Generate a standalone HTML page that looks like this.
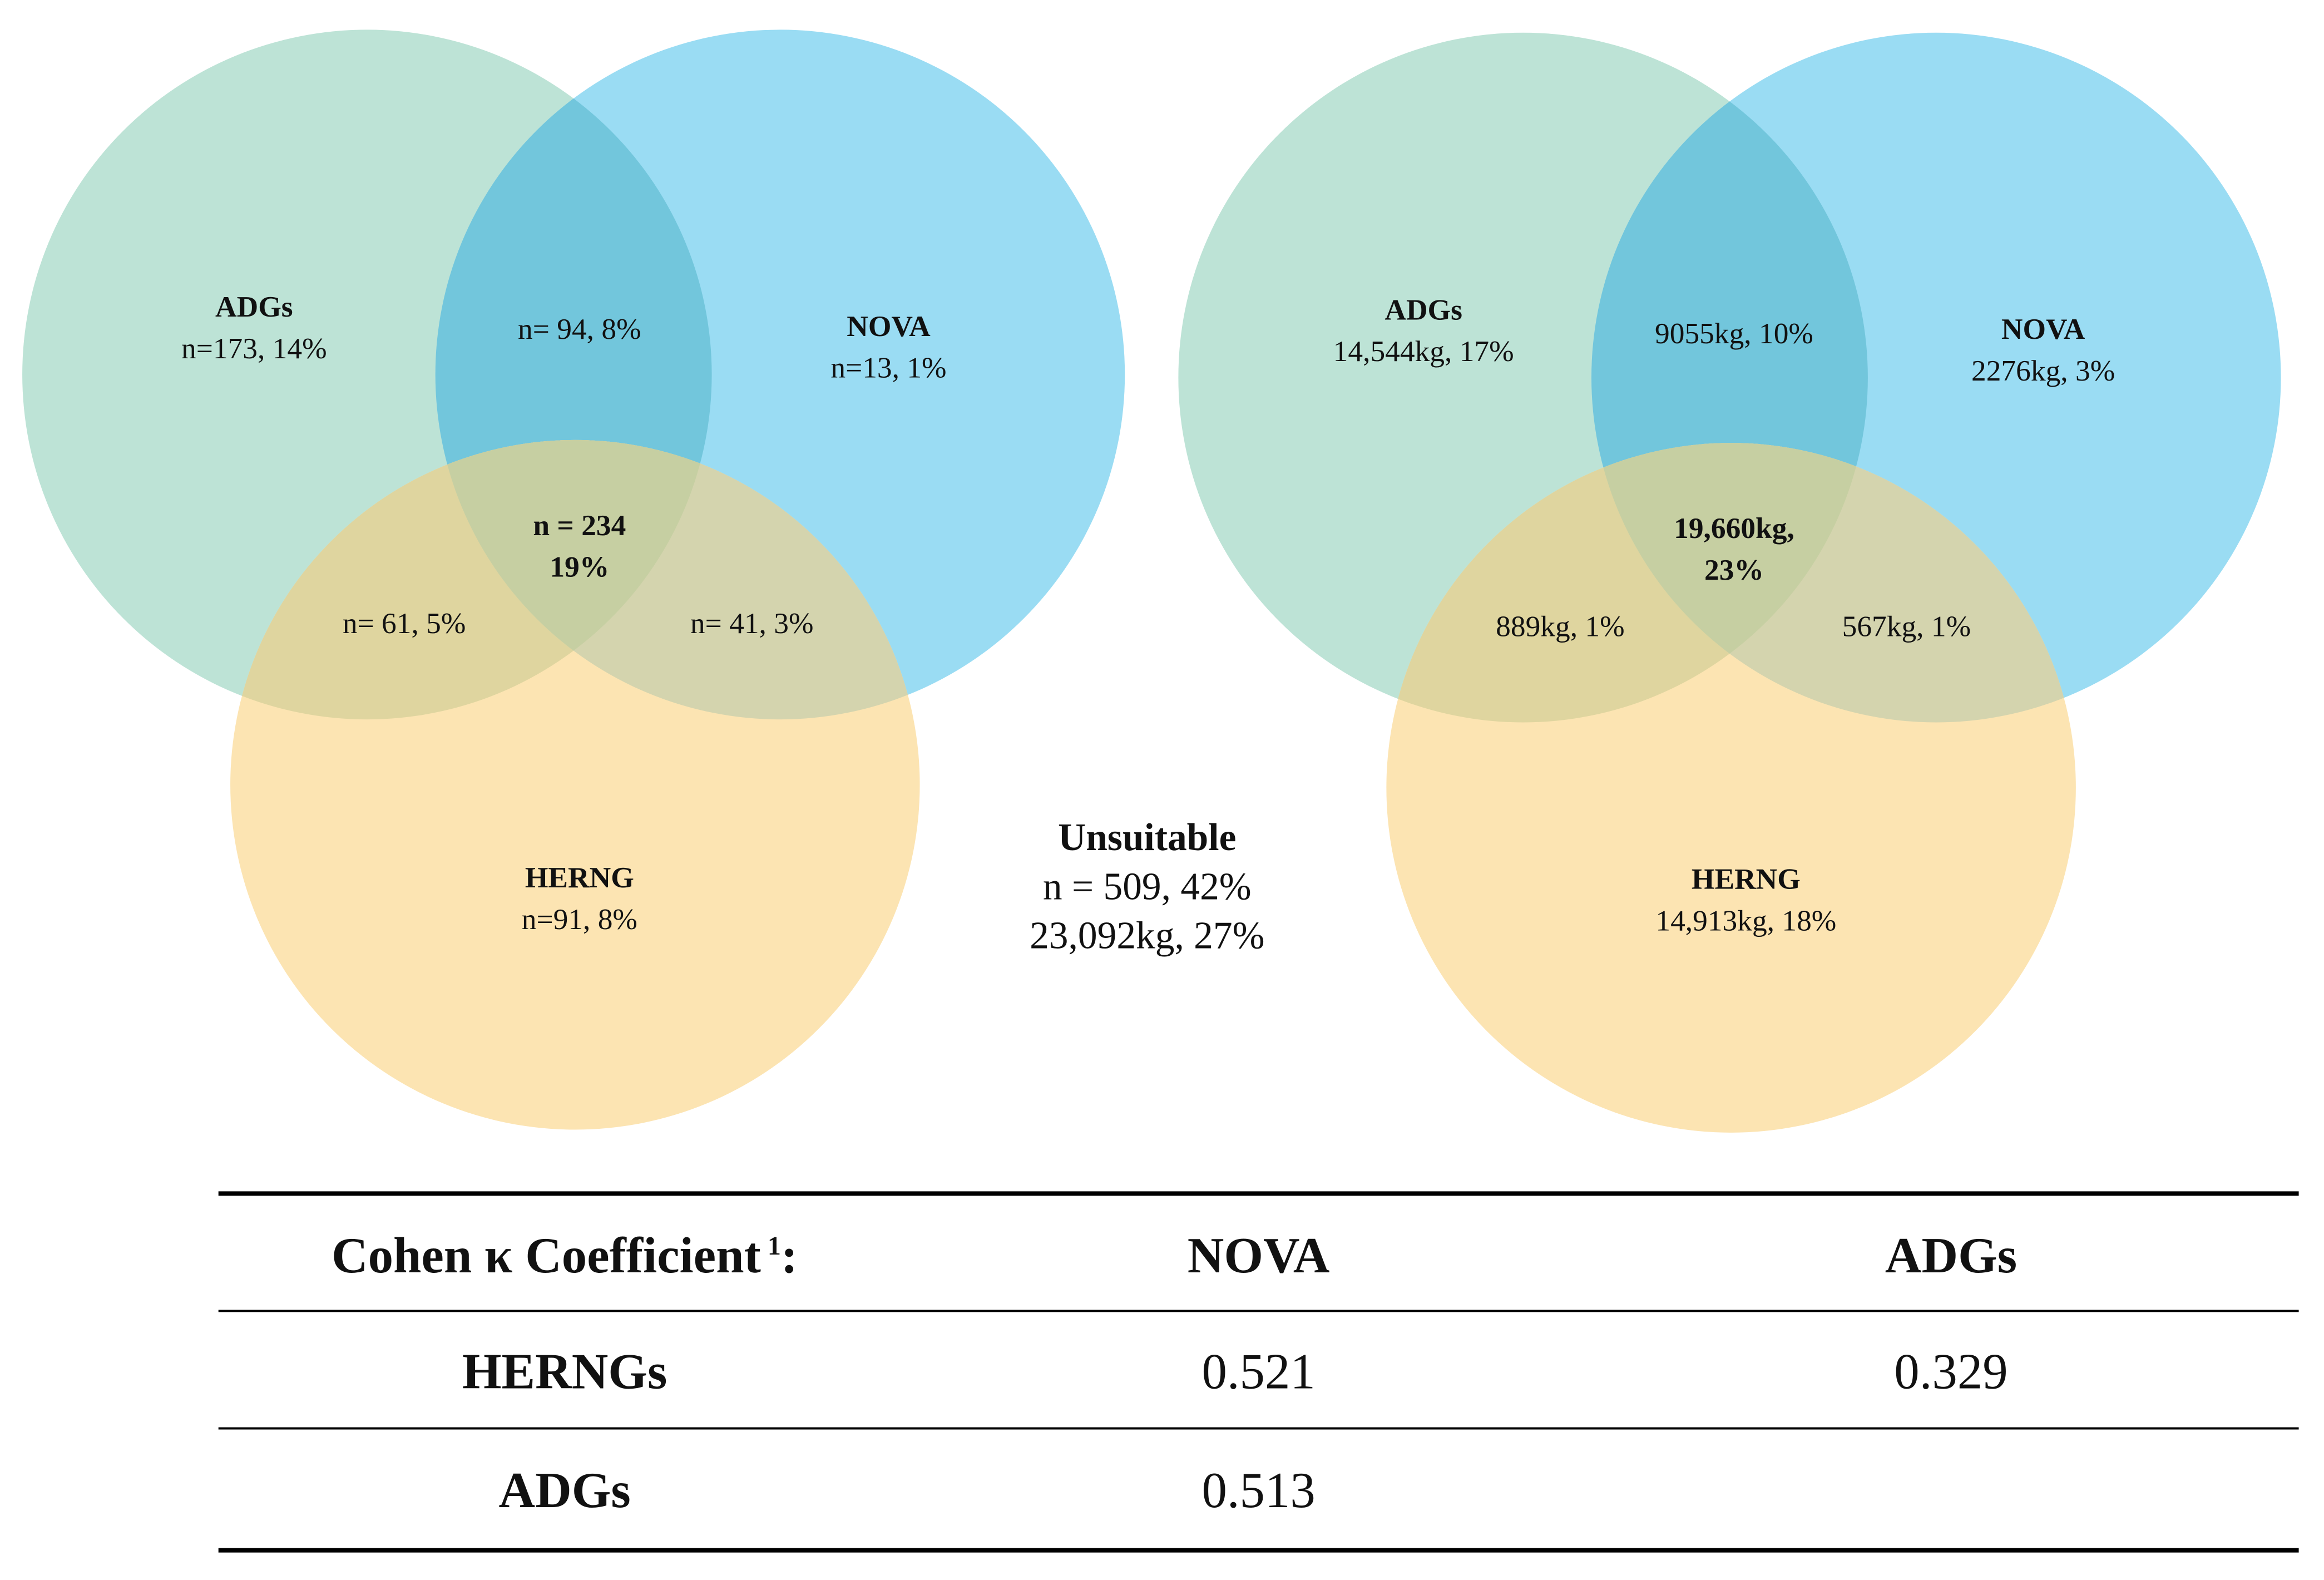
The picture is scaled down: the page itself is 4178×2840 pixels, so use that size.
<!DOCTYPE html>
<html><head><meta charset="utf-8">
<style>
html,body{margin:0;padding:0;background:#fff;}
svg{display:block;}
text{font-family:"Liberation Serif",serif;fill:#111;}
</style></head>
<body>
<svg id="chart" width="4178" height="2840" viewBox="0 0 1564 1063" preserveAspectRatio="none">
<defs id="defs"></defs>
<g id="venns"></g>
<g id="labels"></g>
<g id="table"></g>
</svg>
<script>
const NS="http://www.w3.org/2000/svg";
const setNames=["ADGs","NOVA","HERNG"];
const vennCenters=[[[247,252],[525,252],[387,528]],[[1025,254],[1303,254],[1165,530]]];
const R=232;
const regionColors={A:"#bde3d6",N:"#9adcf3",H:"#fce4b2",AN:"#72c6dc",AH:"#dfd59f",NH:"#d4d4ae",ANH:"#c6cfa2"};
const leftLabels=[["ADGs","n=173, 14%",171,213,true],["NOVA","n=13, 1%",598,226,true],["","n= 94, 8%",390,228,false],["n = 234","19%",390,360,"both"],["","n= 61, 5%",272,426,false],["","n= 41, 3%",506,426,false],["HERNG","n=91, 8%",390,597,true]];
const rightLabels=[["ADGs","14,544kg, 17%",958,215,true],["NOVA","2276kg, 3%",1375,228,true],["","9055kg, 10%",1167,231,false],["19,660kg,","23%",1167,362,"both"],["","889kg, 1%",1050,428,false],["","567kg, 1%",1283,428,false],["HERNG","14,913kg, 18%",1175,598,true]];
const tableHeader=["Cohen κ Coefficient","NOVA","ADGs"];
const tableRows=[["HERNGs","0.521","0.329"],["ADGs","0.513",""]];
const defs=document.getElementById('defs');
function el(t,a,p){const e=document.createElementNS(NS,t);for(const k in a)e.setAttribute(k,a[k]);p.appendChild(e);return e;}
vennCenters.forEach((cs,vi)=>{
  const g=el('g',{},document.getElementById('venns'));
  
  
  cs.forEach((c,i)=>{const cp=el('clipPath',{id:`c${vi}${i}`},defs);el('circle',{cx:c[0],cy:c[1],r:R},cp);});
  const [a,n,h]=cs;
  const ca=el('circle',{cx:a[0],cy:a[1],r:R,fill:regionColors.A},g);
  
  
  const cn=el('circle',{cx:n[0],cy:n[1],r:R,fill:regionColors.N},g);
  
  
  el('circle',{cx:n[0],cy:n[1],r:R,fill:regionColors.AN,'clip-path':`url(#c${vi}0)`},g);
  const ch=el('circle',{cx:h[0],cy:h[1],r:R,fill:regionColors.H},g);
  
  
  el('circle',{cx:h[0],cy:h[1],r:R,fill:regionColors.AH,'clip-path':`url(#c${vi}0)`},g);
  el('circle',{cx:h[0],cy:h[1],r:R,fill:regionColors.NH,'clip-path':`url(#c${vi}1)`},g);
  const g3=el('g',{'clip-path':`url(#c${vi}0)`},g);
  el('circle',{cx:h[0],cy:h[1],r:R,fill:regionColors.ANH,'clip-path':`url(#c${vi}1)`},g3);
});
const lg=document.getElementById('labels');
[leftLabels,rightLabels].forEach(list=>list.forEach(L=>{
  const t=el('text',{x:L[2],y:L[3],'text-anchor':'middle','font-size':20},lg);
  
  
  if(L[0]){const s=el('tspan',{x:L[2],'font-weight':'bold'},t);s.textContent=L[0];}
  const s2=el('tspan',{x:L[2],dy:L[0]?28:0},t);
  if(L[4]==="both")s2.setAttribute('font-weight','bold');
  s2.textContent=L[1];
}));
const u=el('text',{x:772,y:572,'text-anchor':'middle','font-size':26},lg);


[["Unsuitable",0,true],["n = 509, 42%",33,false],["23,092kg, 27%",33,false]].forEach(p=>{const s=el('tspan',{x:772,dy:p[1]},u);if(p[2])s.setAttribute('font-weight','bold');s.textContent=p[0];});
const tg=document.getElementById('table');
[[803,3],[882,1.5],[961,1.5],[1043,3]].forEach(l=>{const ln=el('line',{x1:147,x2:1547,y1:l[0],y2:l[0],stroke:'#000','stroke-width':l[1]},tg);});
const colX=[380,847,1313];
tableHeader.forEach((h,i)=>{const t=el('text',{x:colX[i],y:856,'text-anchor':'middle','font-size':34,'font-weight':'bold'},tg);t.textContent=h;if(i==0){const s=el('tspan',{'font-size':18,dy:-12},t);s.textContent=" 1";const s2=el('tspan',{dy:12},t);s2.textContent=":";}});
tableRows.forEach((r,ri)=>r.forEach((v,ci)=>{const t=el('text',{x:colX[ci],y:934+ri*80,'text-anchor':'middle','font-size':34,'font-weight':ci==0?'bold':'normal'},tg);t.textContent=v;}));
</script>
</body></html>
